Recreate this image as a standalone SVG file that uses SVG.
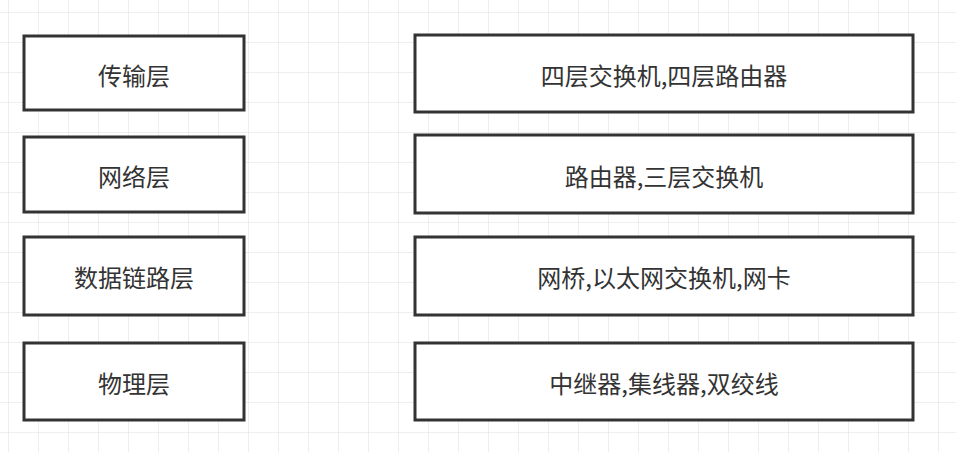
<svg xmlns="http://www.w3.org/2000/svg" width="956" height="452" viewBox="0 0 956 452">
<defs>
<pattern id="g" x="8" y="12" width="30" height="30" patternUnits="userSpaceOnUse"><path d="M0 0H30M0 0V30" fill="none" stroke="#dedede" stroke-width="1"/></pattern>
</defs>
<style>
rect.n{fill:#fff;stroke:#333;stroke-width:3}
text{font-family:"Noto Sans CJK SC","Noto Sans",sans-serif;font-size:24px;fill:#333;text-anchor:middle;dominant-baseline:central}
</style>
<rect width="956" height="452" fill="#fff"/>
<rect width="956" height="452" fill="url(#g)"/>
<g id="l1"><rect class="n" x="24" y="36" width="220" height="74"/><text x="134" y="74">传输层</text></g>
<g id="l2"><rect class="n" x="24" y="137" width="220" height="75"/><text x="134" y="175">网络层</text></g>
<g id="l3"><rect class="n" x="24" y="237" width="220" height="78"/><text x="134" y="276">数据链路层</text></g>
<g id="l4"><rect class="n" x="24" y="343" width="220" height="77"/><text x="134" y="382">物理层</text></g>
<g id="r1"><rect class="n" x="415" y="35" width="498" height="77"/><text x="664" y="74">四层交换机,四层路由器</text></g>
<g id="r2"><rect class="n" x="415" y="135" width="498" height="78"/><text x="664" y="175">路由器,三层交换机</text></g>
<g id="r3"><rect class="n" x="415" y="237" width="498" height="78"/><text x="664" y="276">网桥,以太网交换机,网卡</text></g>
<g id="r4"><rect class="n" x="415" y="343" width="498" height="77"/><text x="664" y="382">中继器,集线器,双绞线</text></g>
<g id="connectors"/>
</svg>
